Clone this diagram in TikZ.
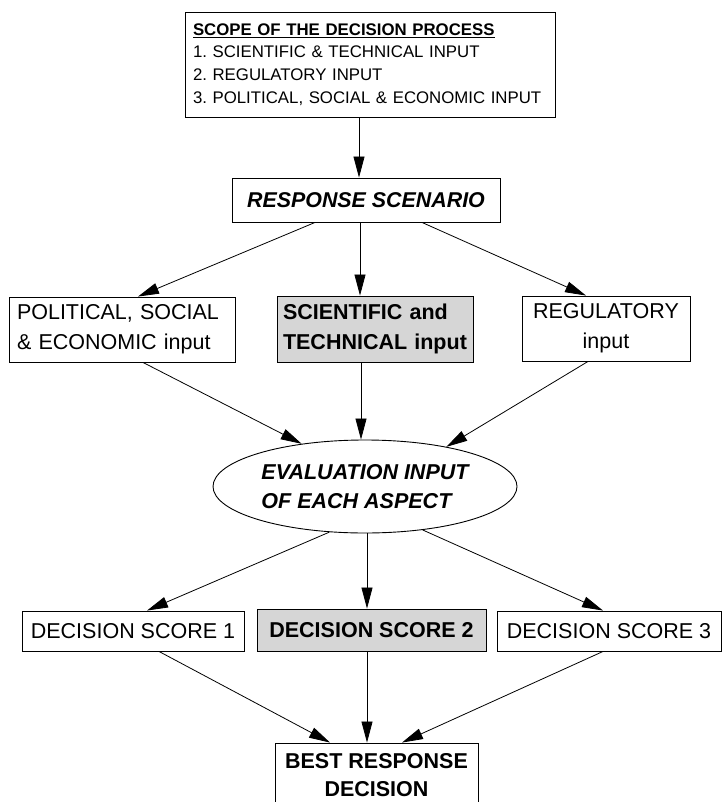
\documentclass[tikz,border=0pt]{standalone}
\usepackage{fontspec}
\setmainfont{Liberation Sans}
\usetikzlibrary{shapes.geometric,arrows.meta}
\frenchspacing
\begin{document}
\begin{tikzpicture}[x=1pt,y=-1pt,
  box/.style={draw=black,line width=0.9pt,inner sep=0pt},
  shaded/.style={fill=black!16},
  big/.style={font=\fontsize{21.5}{30}\selectfont},
  bigb/.style={font=\fontsize{21.5}{30}\selectfont\bfseries},
  link/.style={draw=black,line width=0.8pt,-{Triangle[length=21pt,width=11pt]}},
]
\useasboundingbox (0,0) rectangle (723,802);
\clip (0,0) rectangle (723,802);

% boxes
\node[box, text width=354pt, inner xsep=8pt, minimum height=105pt, align=left,
      font=\fontsize{16.8}{22.7}\selectfont] (scope) at (370,64.5)
  {\textbf{\underline{SCOPE OF THE DECISION PROCESS}}\\
   1. SCIENTIFIC \& TECHNICAL INPUT\\
   2. REGULATORY INPUT\\
   3. POLITICAL, SOCIAL \& ECONOMIC INPUT};

\node[box, minimum width=268pt, minimum height=44pt,
      font=\fontsize{21.4}{26}\selectfont\bfseries\itshape] (resp) at (366,200)
  {RESPONSE SCENARIO};

\node[box, big, text width=210pt, inner xsep=8pt, minimum height=65pt, align=left]
  (pol) at (122,329.5) {POLITICAL, SOCIAL\\\& ECONOMIC input};
\node[box, shaded, bigb, text width=184pt, inner xsep=6pt, minimum height=66pt, align=left]
  (sci) at (375,329) {SCIENTIFIC and\\TECHNICAL input};
\node[box, big, minimum width=168pt, minimum height=65pt, align=center]
  (reg) at (606,328.5) {REGULATORY\\input};

\node[ellipse, draw=black, line width=0.9pt, inner sep=0pt, minimum width=304pt,
      minimum height=93pt, align=left,
      font=\fontsize{21.5}{29}\selectfont\bfseries\itshape] (eval) at (365,486.5)
  {EVALUATION INPUT\\OF EACH ASPECT};

\node[box, big, minimum width=222pt, minimum height=40pt] (d1) at (133,631) {DECISION SCORE 1};
\node[box, shaded, bigb, minimum width=229pt, minimum height=42pt] (d2) at (371.5,630) {DECISION SCORE 2};
\node[box, big, minimum width=224pt, minimum height=40pt] (d3) at (609,631) {DECISION SCORE 3};

\node[box, font=\fontsize{21.5}{28}\selectfont\bfseries, minimum width=203pt,
      minimum height=64pt, align=center] (best) at (376.5,775) {BEST RESPONSE\\DECISION};

% connectors
\draw[link] ([xshift=-11pt]scope.south) -- ([xshift=-11pt]scope.south |- resp.north);
\draw[link] ([xshift=-51pt]resp.south) -- ([xshift=16pt]pol.north);
\draw[link] ([xshift=-6pt]resp.south) -- ([xshift=-6pt]resp.south |- sci.north);
\draw[link] ([xshift=56pt]resp.south) -- ([xshift=-20pt]reg.north);

\draw[link] ([xshift=21pt]pol.south) -- (eval.146);
\draw[link] ([xshift=-14pt]sci.south) -- ([xshift=-14pt]sci.south |- eval.north);
\draw[link] ([xshift=-18pt]reg.south) -- (eval.26);

\draw[link] (eval.232) -- ([xshift=14pt]d1.north);
\draw[link] ([xshift=2pt]eval.south) -- ([xshift=2pt]eval.south |- d2.north);
\draw[link] (eval.323) -- ([xshift=-6pt]d3.north);

\draw[link] ([xshift=26pt]d1.south) -- ([xshift=-46.5pt]best.north);
\draw[link] ([xshift=-4.5pt]d2.south) -- ([xshift=-4.5pt]d2.south |- best.north);
\draw[link] ([xshift=-6pt]d3.south) -- ([xshift=25.5pt]best.north);
\end{tikzpicture}
\end{document}
